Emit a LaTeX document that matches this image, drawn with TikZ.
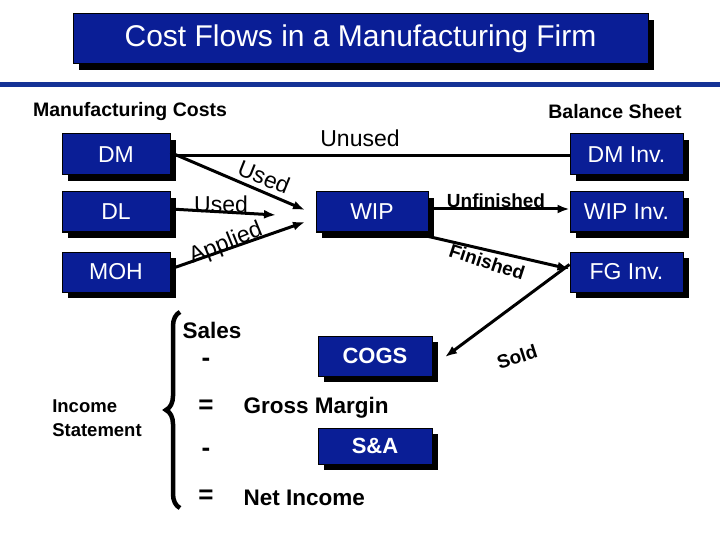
\documentclass[tikz,border=0pt]{standalone}
\usepackage{fontspec}
\setmainfont{Liberation Sans}
\usetikzlibrary{arrows.meta,decorations.pathreplacing,shadows}
\definecolor{boxblue}{RGB}{10,30,150}
\definecolor{lineblue}{RGB}{20,50,150}
\begin{document}
\begin{tikzpicture}[x=1pt,y=-1pt,
  bx/.style={fill=boxblue,draw=black,line width=1pt,text=white,inner sep=0pt,
    drop shadow={shadow xshift=6pt,shadow yshift=-6pt,fill=black,opacity=1},font=\fontsize{23}{25}\selectfont},
  ar/.style={line width=3pt,-{Latex[length=12pt,width=9pt]}},
  lb/.style={font=\fontsize{23}{25}\selectfont},
  bl/.style={font=\bfseries\fontsize{19}{21}\selectfont}]
\useasboundingbox (0,0) rectangle (720,540);
\node[bx,minimum width=575pt,minimum height=50pt,font=\fontsize{30}{32}\selectfont] (title) at (360.5,39) {Cost Flows in a Manufacturing Firm};
\draw[lineblue,line width=5pt] (0,85) -- (720,85);
\node[bl,font=\bfseries\fontsize{19.5}{21}\selectfont] (mc) at (130,112) {Manufacturing Costs};
\node[bl,font=\bfseries\fontsize{19.5}{21}\selectfont] (bs) at (615,112) {Balance Sheet};
\draw[line width=3pt] (170,156) -- (570,156);
\node[bx,minimum width=108pt,minimum height=41pt] (dm) at (116,154.5) {DM};
\node[bx,minimum width=108pt,minimum height=40pt] (dl) at (116,212) {DL};
\node[bx,minimum width=108pt,minimum height=40pt] (moh) at (116,272) {MOH};
\node[bx,minimum width=112pt,minimum height=40pt] (wip) at (372,212) {WIP};
\node[bx,minimum width=113pt,minimum height=41pt] (dminv) at (626.5,154.5) {DM Inv.};
\node[bx,minimum width=113pt,minimum height=40pt] (wipinv) at (626.5,212) {WIP Inv.};
\node[bx,minimum width=113pt,minimum height=40pt] (fginv) at (626.5,272) {FG Inv.};
\node[bx,minimum width=114pt,minimum height=40pt,font=\bfseries\fontsize{22}{24}\selectfont] (cogs) at (375,356) {COGS};
\node[bx,minimum width=114pt,minimum height=36pt,font=\bfseries\fontsize{22}{24}\selectfont] (sa) at (375,446) {S\&A};
\coordinate (u1) at (305,210);
\coordinate (u2) at (276,215);
\coordinate (u3) at (305,222);
\coordinate (s1) at (445,357);
\node[lb] (unused) at (360,138) {Unused};
\draw[ar] ([yshift=2pt]dm.east) -- (u1);
\node[lb,rotate=-22] (used1) at (264,177) {Used};
\draw[ar] ([yshift=3pt]dl.east) -- (u2);
\node[lb] (used2) at (221,204) {Used};
\draw[ar] ([yshift=3pt]moh.east) -- (u3);
\node[lb,rotate=22] (applied) at (226,244) {Applied};
\draw[ar] ([yshift=3pt]wip.east) -- ([yshift=3pt]wipinv.west);
\node[bl] (unf) at (496,201) {Unfinished};
\draw[ar] ([yshift=-4pt]wip.south east) -- ([yshift=3pt]fginv.west);
\node[bl,rotate=-18] (fin) at (487,262) {Finished};
\draw[ar] ([yshift=28pt]fginv.south west) -- (s1);
\node[bl,rotate=18] (sold) at (517,357) {Sold};
\draw[line width=4.5pt,decorate,decoration={brace,amplitude=14pt}] (180,508) -- (180,312);
\node[bl,align=left,font=\bfseries\fontsize{18.5}{24}\selectfont] (is) at (97,418) {Income\\Statement};
\node[lb,font=\bfseries\fontsize{22.5}{24}\selectfont] (sales) at (212,330) {Sales};
\node[lb,font=\bfseries\fontsize{26}{26}\selectfont] (m1) at (206,362) {-};
\node[lb,font=\bfseries\fontsize{26}{26}\selectfont] (e1) at (206,407) {=};
\node[lb,font=\bfseries\fontsize{26}{26}\selectfont] (m2) at (206,452) {-};
\node[lb,font=\bfseries\fontsize{26}{26}\selectfont] (e2) at (206,497) {=};
\node[lb,anchor=west,font=\bfseries\fontsize{22.5}{24}\selectfont] (gm) at (240,408) {Gross Margin};
\node[lb,anchor=west,font=\bfseries\fontsize{22.5}{24}\selectfont] (ni) at (240,498) {Net Income};
\end{tikzpicture}
\end{document}
